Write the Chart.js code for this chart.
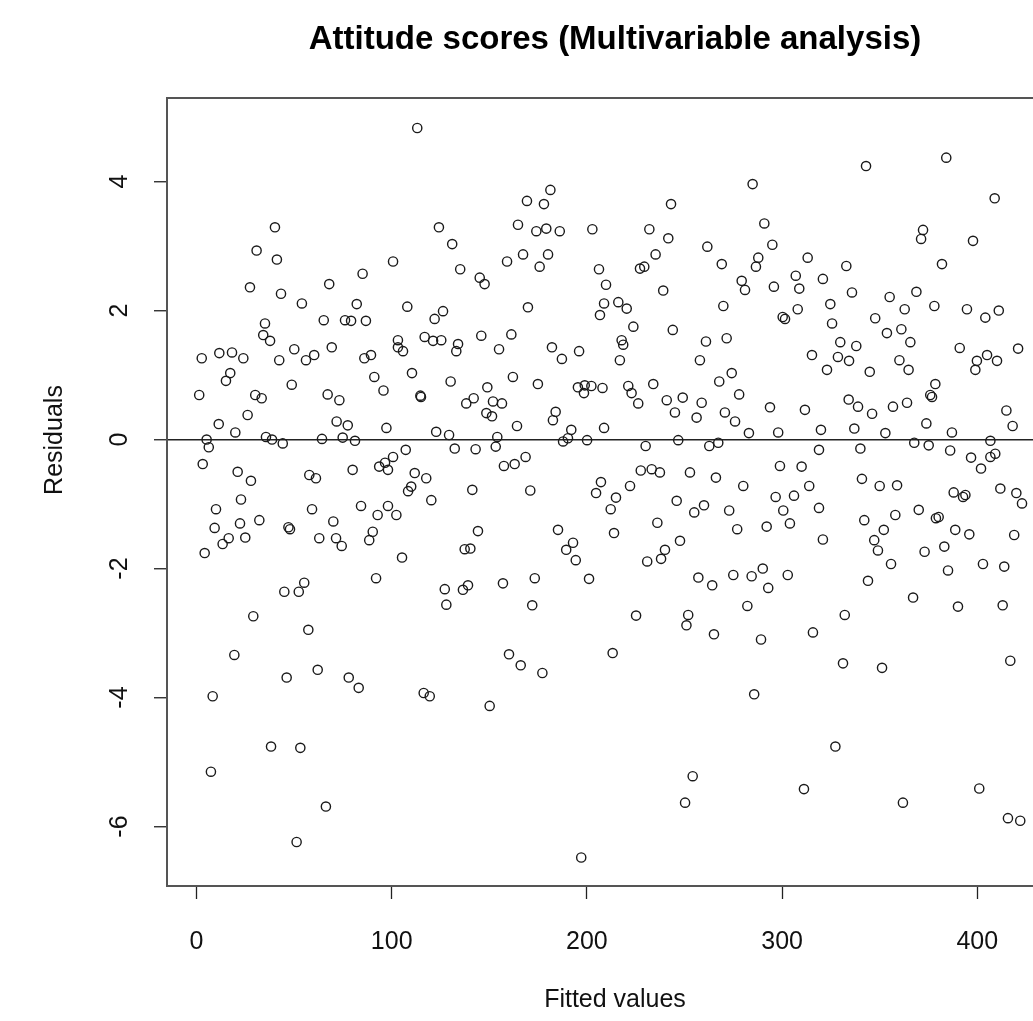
<!DOCTYPE html>
<html><head><meta charset="utf-8">
<script src="https://cdn.jsdelivr.net/npm/chart.js@4/dist/chart.umd.min.js"></script>
<style>html,body{margin:0;padding:0;background:#fff;overflow:hidden;width:1033px;height:1021px}canvas{display:block}</style>
</head><body>
<canvas id="c" width="1100" height="1021" style="width:1100px;height:1021px"></canvas>
<script>
const chartTitle = 'Attitude scores (Multivariable analysis)';
const xAxisLabel = 'Fitted values';
const yAxisLabel = 'Residuals';
const xTickValues = [0, 100, 200, 300, 400];
const yTickValues = [-6, -4, -2, 0, 2, 4];
const fittedValues = [
40.2,30.8,41.2,27.4,43.3,54.0,68.0,85.1,82.1,35.1,34.2,37.7,65.2,76.1,79.2,86.8,2.7,11.7,18.2,24.0,50.1,42.4,56.1,60.3,69.3,86.0,89.4,100.7,
1.4,5.2,6.3,3.2,11.4,19.9,26.2,30.1,33.4,15.1,17.3,21.1,27.9,22.8,10.0,9.3,22.3,32.2,13.4,16.5,25.0,4.2,35.6,38.7,44.2,48.8,47.1,47.9,45.0,52.4,55.2,29.1,64.3,67.2,73.2,71.8,77.5,74.9,81.2,57.8,61.2,59.2,70.1,62.9,71.5,74.4,80.0,84.3,91.1,95.8,97.3,93.6,96.6,98.1,100.7,92.8,98.1,102.4,88.5,90.3,92.0,
57.3,19.4,8.3,46.2,62.1,78.0,83.1,38.2,53.2,7.4,66.3,51.3,
113.1,169.3,178.0,181.3,124.2,131.0,135.1,145.1,147.6,164.7,174.1,179.2,186.1,202.8,159.1,167.3,180.1,175.8,206.2,209.8,208.8,206.7,108.0,122.0,126.3,169.8,103.2,105.8,103.2,116.9,121.2,125.4,134.0,133.1,145.9,155.0,161.3,182.1,187.2,196.0,
110.4,114.7,115.0,130.2,138.2,142.0,149.0,151.9,156.5,148.5,151.4,162.1,174.9,195.4,198.9,202.3,198.5,208.0,122.8,129.4,132.3,143.0,154.1,153.3,164.2,184.0,182.6,192.0,190.3,187.8,200.1,208.8,107.2,111.8,117.7,110.0,108.4,120.3,157.5,163.0,168.6,141.3,171.0,144.2,137.4,140.3,105.3,185.2,192.9,189.4,194.3,207.2,204.7,127.2,128.0,136.5,139.1,157.0,173.3,172.0,201.1,
116.4,119.5,150.2,160.1,166.1,177.2,197.1,
284.9,243.1,290.9,232.0,241.7,295.0,261.7,235.2,313.1,227.2,229.4,269.1,287.8,286.6,320.9,239.1,279.3,281.0,295.8,307.0,308.8,216.1,220.4,269.9,300.3,301.5,308.0,223.8,244.0,217.8,218.6,216.9,261.0,271.6,257.9,315.3,
221.2,222.9,226.3,234.0,240.9,249.1,245.1,258.8,256.2,267.8,274.2,278.0,270.7,275.9,293.8,311.7,319.9,318.9,283.0,298.0,230.1,246.8,262.7,267.3,227.6,233.2,237.4,252.8,266.1,280.1,298.9,310.0,313.9,222.1,214.9,212.2,246.0,260.0,255.0,272.9,296.7,306.1,300.6,304.0,318.9,236.1,277.0,292.1,213.9,247.7,240.0,238.0,230.9,320.9,257.1,264.2,275.0,284.4,290.1,292.9,302.9,282.2,225.2,251.9,251.0,265.1,315.8,
213.2,289.2,285.7,254.2,250.3,311.2,
343.0,384.1,408.9,372.2,371.2,397.8,381.9,332.9,335.8,324.7,325.6,355.1,368.8,362.8,378.0,394.7,404.1,411.0,347.7,353.7,361.1,365.7,329.8,338.0,328.6,334.3,391.0,399.8,405.0,410.1,420.9,360.1,
323.0,344.9,364.8,399.0,378.5,375.9,376.8,334.1,338.9,346.1,356.8,364.0,414.9,418.1,337.0,352.9,373.9,387.0,340.1,367.7,375.1,386.1,406.7,406.7,409.2,396.8,401.9,340.9,350.0,358.9,387.9,392.7,393.9,411.8,420.0,422.9,342.1,358.0,370.0,380.2,378.8,352.1,347.2,349.1,388.7,395.9,418.9,373.0,383.1,355.8,385.0,402.9,413.8,344.0,367.1,390.1,413.0,332.1,
331.2,351.2,416.9,327.3,361.9,401.0,415.7,422.0
];
const residuals = [
3.29,2.93,2.79,2.36,2.26,2.11,2.41,2.57,2.10,1.80,1.62,1.53,1.85,1.85,1.84,1.84,1.26,1.34,1.35,1.26,1.40,1.23,1.23,1.31,1.43,1.26,1.31,2.76,
0.69,0.00,-0.12,-0.38,0.24,0.11,0.38,0.69,0.64,0.91,1.03,-0.50,-0.64,-0.93,-1.08,-1.37,-1.30,-1.25,-1.62,-1.53,-1.52,-1.76,0.04,0.00,-0.06,0.85,-1.36,-1.39,-2.36,-2.36,-2.22,-2.74,0.01,0.70,0.61,0.28,0.22,0.03,-0.02,-0.55,-0.60,-1.08,-1.27,-1.53,-1.53,-1.65,-0.47,-1.03,0.97,0.76,0.18,-0.42,-0.36,-0.47,-0.27,-1.17,-1.03,-1.17,-1.56,-1.43,-2.15,
-2.95,-3.34,-3.98,-3.69,-3.57,-3.69,-3.85,-4.76,-4.78,-5.15,-5.69,-6.24,
4.83,3.70,3.65,3.87,3.29,3.03,2.64,2.51,2.41,3.33,3.23,3.27,3.23,3.26,2.76,2.87,2.87,2.68,2.64,2.40,2.11,1.93,2.06,1.87,1.99,2.05,1.54,1.37,1.43,1.59,1.53,1.54,1.48,1.37,1.61,1.40,1.63,1.43,1.25,1.37,
1.03,0.68,0.66,0.90,0.56,0.64,0.81,0.59,0.56,0.41,0.36,0.97,0.86,0.81,0.84,0.83,0.72,0.80,0.12,0.07,-0.14,-0.15,0.04,-0.11,0.21,0.43,0.30,0.15,0.02,-0.03,-0.01,0.18,-0.16,-0.52,-0.60,-0.73,-0.80,-0.94,-0.41,-0.38,-0.27,-0.78,-0.79,-1.42,-1.70,-1.69,-1.83,-1.40,-1.60,-1.71,-1.87,-0.66,-0.83,-2.32,-2.56,-2.33,-2.26,-2.23,-2.15,-2.57,-2.16,
-3.93,-3.98,-4.13,-3.33,-3.50,-3.62,-6.48,
3.96,3.65,3.35,3.26,3.12,3.02,2.99,2.87,2.82,2.65,2.68,2.72,2.82,2.68,2.49,2.31,2.46,2.32,2.37,2.54,2.34,2.13,2.03,2.07,1.90,1.87,2.02,1.75,1.70,1.54,1.47,1.23,1.52,1.57,1.23,1.31,
0.83,0.72,0.56,0.86,0.61,0.65,0.42,0.57,0.34,0.90,1.03,0.70,0.42,0.28,0.50,0.46,0.15,-0.16,0.10,0.11,-0.10,-0.01,-0.10,-0.05,-0.48,-0.46,-0.51,-0.51,-0.59,-0.72,-0.41,-0.42,-0.72,-0.72,-0.90,-1.08,-0.95,-1.02,-1.13,-1.10,-0.89,-0.87,-1.10,-1.30,-1.06,-1.29,-1.39,-1.35,-1.45,-1.57,-1.71,-1.85,-1.89,-1.55,-2.14,-2.26,-2.10,-2.12,-2.00,-2.30,-2.10,-2.58,-2.73,-2.72,-2.88,-3.02,-2.99,
-3.31,-3.10,-3.95,-5.22,-5.63,-5.42,
4.24,4.37,3.74,3.25,3.11,3.08,2.72,2.69,2.28,2.10,1.80,2.21,2.29,2.02,2.07,2.02,1.89,2.00,1.88,1.65,1.71,1.51,1.51,1.45,1.28,1.22,1.42,1.22,1.31,1.22,1.41,1.23,
1.08,1.05,1.08,1.08,0.86,0.69,0.66,0.62,0.51,0.40,0.51,0.57,0.45,0.21,0.17,0.10,0.25,0.11,-0.14,-0.05,-0.09,-0.17,-0.02,-0.27,-0.22,-0.28,-0.45,-0.61,-0.72,-0.71,-0.82,-0.89,-0.86,-0.76,-0.83,-0.99,-1.25,-1.17,-1.09,-1.20,-1.22,-1.40,-1.56,-1.72,-1.40,-1.47,-1.48,-1.74,-1.66,-1.93,-2.03,-1.93,-1.97,-2.19,-2.45,-2.59,-2.57,-2.72,
-3.47,-3.54,-3.43,-4.76,-5.63,-5.41,-5.87,-5.91
];

const FONT = "'Liberation Sans', Arial, Helvetica, sans-serif";
const points = fittedValues.map((x, i) => ({x: x, y: residuals[i]}));

const framePlugin = {
  id: 'frame',
  beforeDatasetsDraw(chart) {
    const {ctx, chartArea: a} = chart;
    ctx.save();
    ctx.strokeStyle = '#555';
    ctx.lineWidth = 2;
    ctx.strokeRect(a.left, a.top, a.right - a.left, a.bottom - a.top);
    ctx.restore();
  }
};

// y-axis title drawn as canvas text, placed as in the reference (slightly above plot centre)
const yTitlePlugin = {
  id: 'yTitle',
  afterDraw(chart) {
    const {ctx, chartArea: a} = chart;
    ctx.save();
    ctx.translate(55, (a.top + a.bottom) / 2 - 52);
    ctx.rotate(-Math.PI / 2);
    ctx.font = "25px " + FONT;
    ctx.fillStyle = '#111';
    ctx.textAlign = 'center';
    ctx.textBaseline = 'middle';
    ctx.fillText(yAxisLabel, 0, 0);
    ctx.restore();
  }
};

new Chart(document.getElementById('c'), {
  type: 'scatter',
  data: {
    datasets: [{
      label: yAxisLabel,
      data: points,
      showLine: false,
      pointStyle: 'circle',
      pointRadius: 4.6,
      pointHoverRadius: 4.6,
      borderColor: '#1a1a1a',
      backgroundColor: 'rgba(0,0,0,0)',
      borderWidth: 1.4
    }]
  },
  options: {
    responsive: false,
    animation: false,
    events: [],
    layout: {padding: {left: 0, top: 0, right: 37, bottom: 0}},
    plugins: {
      legend: {display: false},
      tooltip: {enabled: false},
      title: {
        display: true, text: chartTitle, fullSize: false, color: '#000',
        font: {family: FONT, size: 33, weight: 'bold'},
        padding: {top: 20.2, bottom: 38.2}
      }
    },
    scales: {
      x: {
        type: 'linear', min: -15.1, max: 443.9,
        afterFit(s) { s.height = 135; },
        afterBuildTicks(s) { s.ticks = xTickValues.map(v => ({value: v})); },
        border: {display: false},
        grid: {drawOnChartArea: false, drawTicks: true, tickLength: 13, tickColor: '#222', tickWidth: 1.3},
        ticks: {color: '#111', font: {family: FONT, size: 25}, padding: 28, maxRotation: 0, minRotation: 0, autoSkip: false, callback: v => String(v)},
        title: {display: true, text: xAxisLabel, color: '#111', font: {family: FONT, size: 25}, padding: {top: 0, bottom: 6}}
      },
      y: {
        type: 'linear', min: -6.922, max: 5.295,
        afterFit(s) { s.width = 167; },
        afterBuildTicks(s) { s.ticks = yTickValues.map(v => ({value: v})); },
        border: {display: false},
        grid: {
          drawOnChartArea: true, drawTicks: true, tickLength: 13, tickColor: '#222', tickWidth: 1.3,
          lineWidth: 1.5,
          color: c => (c.tick && c.tick.value === 0) ? '#222' : 'rgba(0,0,0,0)'
        },
        ticks: {color: '#111', font: {family: FONT, size: 25}, padding: 23, minRotation: 90, maxRotation: 90, crossAlign: 'center', autoSkip: false, callback: v => String(v)},
        title: {display: false, text: yAxisLabel}
      }
    }
  },
  plugins: [framePlugin, yTitlePlugin]
});
</script>
</body></html>
